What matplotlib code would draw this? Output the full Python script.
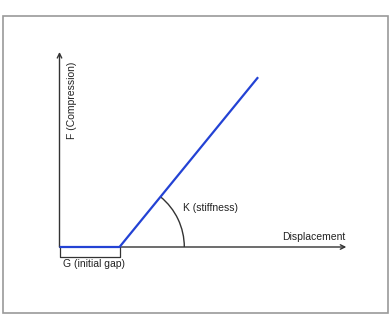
import matplotlib
matplotlib.use("Agg")
import matplotlib.pyplot as plt
from matplotlib.patches import Arc, Rectangle
import numpy as np

# force-displacement curve of a gap element (units: multiples of the gap)
disp = [0.0, 1.0, 3.31]
force = [0.0, 0.0, 2.83]
gap = 1.0
x_axis_end = 4.78
y_axis_end = 3.25

axis_col = "#333333"
blue = "#2342d4"
plt.rcParams["font.family"] = ["Liberation Sans", "DejaVu Sans"]

fig = plt.figure(figsize=(3.92, 3.24), dpi=100)
ax = fig.add_axes([0, 0, 1, 1])
ax.set_xlim(-59.5 / 60, (392 - 59.5) / 60)
ax.set_ylim(-77 / 60, (324 - 77) / 60)
ax.axis("off")

# frame round the figure
fig.patches.append(Rectangle((0.008, 0.034), 0.981, 0.917, transform=fig.transFigure,
                             fill=False, edgecolor="#9a9a9a", linewidth=1.2))

# axes with arrows
arrow = dict(arrowstyle="->", lw=1.0, color=axis_col, shrinkA=0, shrinkB=0, mutation_scale=8)
ax.annotate("", xy=(x_axis_end, 0), xytext=(0, 0), arrowprops=arrow)
ax.annotate("", xy=(0, y_axis_end), xytext=(0, 0), arrowprops=arrow)

# the curve
ax.plot(disp, force, color=blue, lw=1.6, solid_capstyle="butt", zorder=3)

# gap bracket
by = -0.17
ax.plot([0, 0, gap, gap], [0, by, by, 0], color=axis_col, lw=0.9)
ax.text(0.06, -0.285, "G (initial gap)", fontsize=7.5, color="#222222", ha="left", va="center")

# stiffness angle
ang = np.degrees(np.arctan2(force[2] - force[1], disp[2] - disp[1]))
r = 1.08
ax.add_patch(Arc((gap, 0), 2 * r, 2 * r, theta1=0, theta2=ang, color=axis_col, lw=1.0))
ax.text(2.06, 0.65, "K (stiffness)", fontsize=7.5, color="#222222", ha="left", va="center")

ax.text(4.76, 0.17, "Displacement", fontsize=7.5, color="#222222", ha="right", va="center")
ax.text(0.21, 2.45, "F (Compression)", fontsize=7.5, color="#222222", rotation=90,
        ha="center", va="center")

fig.savefig("out.png", dpi=100)
